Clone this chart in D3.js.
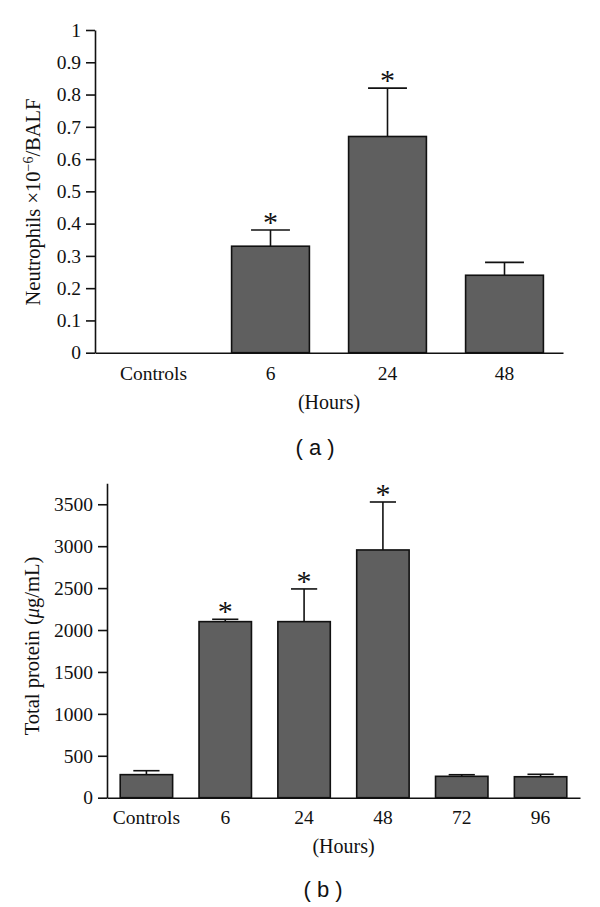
<!DOCTYPE html>
<html><head><meta charset="utf-8">
<script src="https://cdnjs.cloudflare.com/ajax/libs/d3/7.8.5/d3.min.js"></script>
<style>
body{margin:0;background:#fff}
svg{display:block}
</style></head>
<body>
<script>
// ---- Panel (a) data ----
const categoriesA = ["Controls", "6", "24", "48"];
const valuesA = [0, 0.33, 0.67, 0.24];
const errorTopA = [0, 0.38, 0.82, 0.28];
const sigA = [false, true, true, false];
const yTicksA = [0, 0.1, 0.2, 0.3, 0.4, 0.5, 0.6, 0.7, 0.8, 0.9, 1];

// ---- Panel (b) data ----
const categoriesB = ["Controls", "6", "24", "48", "72", "96"];
const valuesB = [275, 2100, 2100, 2955, 255, 250];
const errorTopB = [322, 2128, 2490, 3527, 274, 279];
const sigB = [false, true, true, true, false, false];
const yTicksB = [0, 500, 1000, 1500, 2000, 2500, 3000, 3500];

const svg = d3.select("body").append("svg").attr("width", 600).attr("height", 907);
const serif = "'Liberation Serif', 'Times New Roman', serif";
const BAR = "#5f5f5f";

function panel(cfg) {
  const x = d3.scaleBand().domain(cfg.cats).range(cfg.xr).paddingInner(0.335).paddingOuter(0.1675);
  const y = d3.scaleLinear().domain(cfg.yd).range(cfg.yr);
  const g = svg.append("g");

  const data = cfg.cats.map((c, i) => ({c, v: cfg.vals[i], e: cfg.errs[i], s: cfg.sig[i]}));
  const nz = data.filter(d => d.v > 0);
  const cw = x.bandwidth() * 0.5;
  const cx = d => x(d.c) + x.bandwidth() / 2;

  // error bars
  g.selectAll(".ev").data(nz).enter().append("line")
    .attr("x1", cx).attr("x2", cx)
    .attr("y1", d => y(d.v)).attr("y2", d => y(d.e))
    .attr("stroke", "#111").attr("stroke-width", 1.6);
  g.selectAll(".ec").data(nz).enter().append("line")
    .attr("x1", d => cx(d) - cw / 2).attr("x2", d => cx(d) + cw / 2)
    .attr("y1", d => y(d.e)).attr("y2", d => y(d.e))
    .attr("stroke", "#111").attr("stroke-width", 1.6);

  g.selectAll(".bar").data(nz).enter().append("rect")
    .attr("x", d => x(d.c)).attr("width", x.bandwidth())
    .attr("y", d => y(d.v)).attr("height", d => y(0) - y(d.v))
    .attr("fill", BAR).attr("stroke", "#111").attr("stroke-width", 1.6);

  // asterisks
  g.selectAll(".sig").data(data.filter(d => d.s)).enter().append("text")
    .attr("x", cx).attr("y", d => y(d.e) + 2)
    .attr("text-anchor", "middle").attr("font-family", serif).attr("font-size", 30)
    .attr("fill", "#111").text("*");

  // axes
  const ya = g.append("g").attr("transform", `translate(${cfg.xr[0]},0)`)
    .call(d3.axisLeft(y).tickValues(cfg.ticks).tickSize(9).tickPadding(5).tickSizeOuter(0).tickFormat(d3.format("")));
  ya.select(".domain").attr("stroke", "#111").attr("stroke-width", 1.6);
  ya.selectAll(".tick line").attr("stroke", "#111").attr("stroke-width", 1.6);
  ya.selectAll(".tick text").attr("font-family", serif).attr("font-size", 19.5).attr("fill", "#111");

  const xa = g.append("g").attr("transform", `translate(0,${y(0)})`)
    .call(d3.axisBottom(x).tickSize(0).tickPadding(cfg.xpad).tickSizeOuter(0));
  xa.select(".domain").attr("stroke", "#111").attr("stroke-width", 1.6);
  xa.selectAll(".tick text").attr("font-family", serif).attr("font-size", 19.5).attr("fill", "#111");

  // axis titles
  g.append("text").attr("x", (cfg.xr[0] + cfg.xr[1]) / 2).attr("y", cfg.hoursY)
    .attr("text-anchor", "middle").attr("font-family", serif).attr("font-size", 20).attr("fill", "#111")
    .text("(Hours)");

  const yt = g.append("text").attr("transform", `translate(${cfg.ytX},${cfg.ytY}) rotate(-90)`)
    .attr("text-anchor", "middle").attr("font-family", serif).attr("font-size", 20.5).attr("fill", "#111");
  cfg.ytitle(yt);

  g.append("text").attr("x", cfg.capX).attr("y", cfg.capY)
    .attr("text-anchor", "middle").attr("font-family", "'Liberation Sans', Arial, sans-serif")
    .attr("font-size", 22).attr("fill", "#111").attr("xml:space", "preserve").text(cfg.cap);
}

panel({
  cats: categoriesA, vals: valuesA, errs: errorTopA, sig: sigA, ticks: yTicksA,
  xr: [95, 563], yd: [0, 1], yr: [352.7, 30], xpad: 13,
  hoursY: 409, ytX: 40, ytY: 202,
  ytitle: t => {
    t.append("tspan").text("Neutrophils \u00d710");
    t.append("tspan").attr("baseline-shift", "super").attr("font-size", 14).text("\u22126");
    t.append("tspan").text("/BALF");
  },
  capX: 315, capY: 455, cap: "( a )"
});

panel({
  cats: categoriesB, vals: valuesB, errs: errorTopB, sig: sigB, ticks: yTicksB,
  xr: [107, 580], yd: [0, 3750], yr: [797.7, 483.3], xpad: 12,
  hoursY: 853, ytX: 39, ytY: 646,
  ytitle: t => {
    t.append("tspan").text("Total protein (");
    t.append("tspan").attr("font-style", "italic").text("\u03bc");
    t.append("tspan").text("g/mL)");
  },
  capX: 323, capY: 897, cap: "( b )"
});
</script>
</body></html>
